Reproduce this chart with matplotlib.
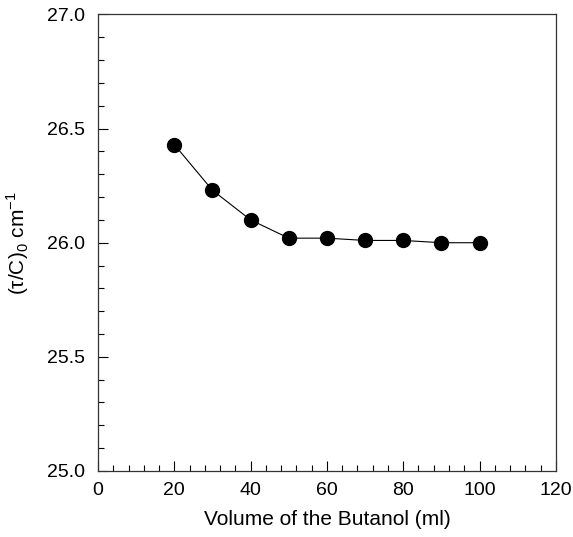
import matplotlib
matplotlib.use("Agg")
import matplotlib.pyplot as plt
from matplotlib.ticker import MultipleLocator

plt.rcParams["font.family"] = ["Liberation Sans", "DejaVu Sans"]
plt.rcParams["mathtext.fontset"] = "custom"
plt.rcParams["mathtext.rm"] = "Liberation Sans"

volume = [20, 30, 40, 50, 60, 70, 80, 90, 100]
tau_c0 = [26.43, 26.23, 26.10, 26.02, 26.02, 26.01, 26.01, 26.00, 26.00]


def main():
    fig = plt.figure(figsize=(5.73, 5.37), dpi=100)
    ax = fig.add_axes([0.171, 0.123, 0.799, 0.850])
    ax.plot(volume, tau_c0, "-o", color="black", lw=0.8, markersize=10)

    ax.set_xlim(0, 120)
    ax.set_ylim(25.0, 27.0)
    ax.xaxis.set_major_locator(MultipleLocator(20))
    ax.xaxis.set_minor_locator(MultipleLocator(4))
    ax.yaxis.set_major_locator(MultipleLocator(0.5))
    ax.yaxis.set_minor_locator(MultipleLocator(0.1))
    ax.yaxis.set_major_formatter(plt.FormatStrFormatter("%.1f"))
    ax.tick_params(which="both", direction="in", top=False, right=False, labelsize=14)
    ax.tick_params(axis="x", which="major", pad=8)
    ax.tick_params(axis="y", which="major", pad=9)
    ax.tick_params(which="major", length=7, width=0.8)
    ax.tick_params(which="minor", length=4, width=0.8)
    for s in ax.spines.values():
        s.set_linewidth(0.9)
        s.set_color("#333333")

    ax.set_xlabel("Volume of the Butanol (ml)", fontsize=15, labelpad=8)
    ax.set_ylabel("(\u03c4/C)$_0$ cm$^{-1}$", fontsize=15, labelpad=12)
    fig.savefig("out.png", dpi=100)


if __name__ == "__main__":
    main()
